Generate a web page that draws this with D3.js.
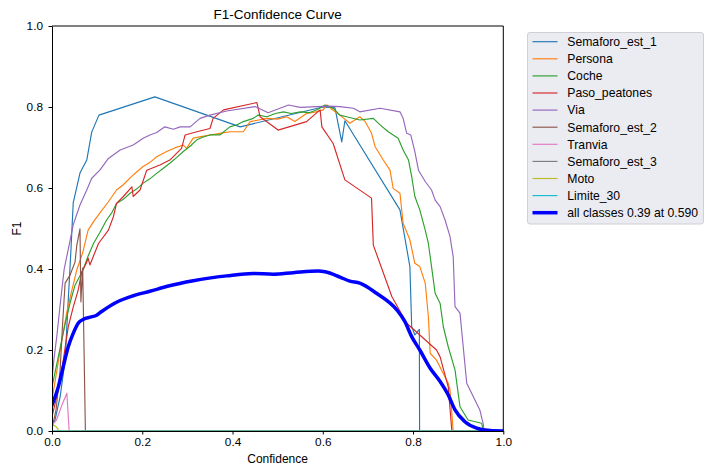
<!DOCTYPE html>
<html>
<head>
<meta charset="utf-8">
<script src="https://cdn.jsdelivr.net/npm/d3@7"></script>
<style>
  html, body { margin: 0; padding: 0; background: #ffffff; }
  svg { display: block; }
  text { font-family: "Liberation Sans", Arial, sans-serif; fill: #000; }
</style>
</head>
<body>
<svg id="chart" width="705" height="471"></svg>
<script>
// ---------------- DATA ----------------
const chartTitle = "F1-Confidence Curve";
const xLabel = "Confidence";
const yLabel = "F1";
const xTicks = [0, 0.2, 0.4, 0.6, 0.8, 1.0];
const yTicks = [0, 0.2, 0.4, 0.6, 0.8, 1.0];

const classNames = ["Semaforo_est_1", "Persona", "Coche", "Paso_peatones", "Via",
  "Semaforo_est_2", "Tranvia", "Semaforo_est_3", "Moto", "Limite_30"];
const classColors = ["#1f77b4", "#ff7f0e", "#2ca02c", "#d62728", "#9467bd",
  "#8c564b", "#e377c2", "#7f7f7f", "#bcbd22", "#17becf"];

// [confidence, F1]
const semaforoEst1 = [[0,0.012],[0.0066,0.027],[0.018,0.084],[0.029,0.175],[0.036,0.323],[0.042,0.447],
  [0.047,0.563],[0.062,0.637],[0.077,0.669],[0.088,0.738],[0.104,0.780],[0.228,0.825],[0.417,0.751],
  [0.600,0.800],[0.627,0.798],[0.642,0.714],[0.649,0.766],[0.771,0.546],[0.793,0.406],[0.797,0.258],
  [0.804,0.237],[0.814,0.251],[0.8145,0],[1.0,0]];

const persona = [[0,0.077],[0.011,0.151],[0.022,0.225],[0.033,0.294],[0.044,0.348],[0.055,0.398],
  [0.068,0.440],[0.080,0.496],[0.094,0.520],[0.106,0.538],[0.125,0.566],[0.143,0.595],[0.158,0.608],
  [0.173,0.625],[0.188,0.640],[0.202,0.653],[0.218,0.664],[0.232,0.677],[0.254,0.690],[0.272,0.699],
  [0.291,0.706],[0.298,0.698],[0.313,0.723],[0.330,0.727],[0.350,0.731],[0.372,0.735],[0.394,0.739],
  [0.424,0.739],[0.439,0.764],[0.458,0.768],[0.476,0.772],[0.500,0.770],[0.520,0.776],[0.538,0.764],
  [0.564,0.784],[0.585,0.788],[0.601,0.793],[0.609,0.805],[0.625,0.790],[0.638,0.780],[0.660,0.760],
  [0.682,0.776],[0.694,0.764],[0.708,0.735],[0.716,0.702],[0.734,0.669],[0.749,0.644],[0.756,0.599],
  [0.771,0.587],[0.778,0.513],[0.793,0.472],[0.804,0.414],[0.815,0.406],[0.827,0.365],[0.834,0.282],
  [0.838,0.192],[0.852,0.175],[0.878,0.118],[0.882,0.101],[0.889,0],[1.0,0]];

const coche = [[0,0.109],[0.007,0.146],[0.018,0.205],[0.029,0.264],[0.040,0.316],[0.051,0.360],
  [0.069,0.398],[0.080,0.432],[0.092,0.463],[0.106,0.490],[0.121,0.521],[0.133,0.540],[0.143,0.562],
  [0.158,0.572],[0.173,0.587],[0.188,0.598],[0.202,0.612],[0.216,0.622],[0.232,0.636],[0.246,0.648],
  [0.261,0.661],[0.276,0.675],[0.291,0.690],[0.306,0.703],[0.321,0.719],[0.335,0.726],[0.350,0.731],
  [0.372,0.731],[0.394,0.751],[0.410,0.756],[0.424,0.764],[0.446,0.772],[0.457,0.780],[0.476,0.776],
  [0.495,0.784],[0.513,0.788],[0.530,0.784],[0.550,0.788],[0.570,0.786],[0.587,0.793],[0.605,0.805],
  [0.623,0.797],[0.638,0.780],[0.653,0.776],[0.682,0.768],[0.712,0.772],[0.727,0.756],[0.745,0.739],
  [0.767,0.723],[0.778,0.694],[0.790,0.669],[0.797,0.628],[0.804,0.579],[0.815,0.546],[0.827,0.496],
  [0.834,0.463],[0.841,0.406],[0.849,0.340],[0.860,0.315],[0.867,0.258],[0.878,0.208],[0.893,0.151],
  [0.904,0.060],[0.922,0.027],[0.952,0.019],[0.956,0],[1.0,0]];

const pasoPeatones = [[0,0.035],[0.014,0.101],[0.025,0.175],[0.036,0.257],[0.047,0.306],[0.058,0.348],
  [0.066,0.393],[0.077,0.417],[0.080,0.427],[0.084,0.410],[0.103,0.463],[0.125,0.496],[0.136,0.529],
  [0.143,0.562],[0.158,0.579],[0.177,0.603],[0.180,0.579],[0.195,0.595],[0.210,0.644],[0.239,0.657],
  [0.261,0.669],[0.287,0.698],[0.295,0.731],[0.321,0.739],[0.350,0.747],[0.357,0.772],[0.380,0.793],
  [0.454,0.811],[0.461,0.776],[0.501,0.743],[0.564,0.764],[0.594,0.793],[0.598,0.751],[0.623,0.710],
  [0.649,0.620],[0.708,0.575],[0.712,0.459],[0.753,0.332],[0.786,0.266],[0.852,0.200],[0.860,0.183],
  [0.878,0.109],[0.886,0],[1.0,0]];

const via = [[0,0.126],[0.004,0.175],[0.011,0.237],[0.018,0.311],[0.027,0.400],[0.038,0.459],
  [0.047,0.509],[0.062,0.558],[0.077,0.595],[0.088,0.624],[0.106,0.644],[0.125,0.673],[0.151,0.694],
  [0.180,0.706],[0.202,0.723],[0.217,0.731],[0.232,0.737],[0.250,0.751],[0.269,0.745],[0.284,0.751],
  [0.306,0.751],[0.328,0.772],[0.350,0.780],[0.387,0.790],[0.450,0.801],[0.479,0.786],[0.524,0.805],
  [0.550,0.799],[0.612,0.802],[0.638,0.801],[0.668,0.797],[0.682,0.788],[0.727,0.797],[0.771,0.788],
  [0.778,0.772],[0.786,0.735],[0.795,0.731],[0.804,0.690],[0.812,0.644],[0.827,0.616],[0.841,0.595],
  [0.849,0.570],[0.860,0.554],[0.871,0.521],[0.882,0.480],[0.889,0.430],[0.893,0.307],[0.904,0.291],
  [0.919,0.118],[0.948,0.052],[0.956,0.015],[0.957,0],[1.0,0]];

const semaforoEst2 = [[0,0.007],[0.009,0.052],[0.018,0.151],[0.024,0.274],[0.029,0.365],[0.040,0.385],
  [0.051,0.417],[0.055,0.459],[0.062,0.499],[0.064,0.319],[0.068,0.402],[0.074,0],[1.0,0]];

const tranvia = [[0,0.015],[0.010,0.027],[0.022,0.064],[0.033,0.093],[0.038,0],[1.0,0]];
const semaforoEst3 = [[0,0],[1.0,0]];
const moto = [[0,0.015],[0.008,0.012],[0.013,0.005],[0.014,0],[1.0,0]];
const limite30 = [[0,0],[1.0,0]];

const allClassesLabel = "all classes 0.39 at 0.590";
const allClasses = [[0,0.064],[0.014,0.109],[0.025,0.159],[0.036,0.208],[0.047,0.241],[0.058,0.266],
  [0.070,0.276],[0.085,0.281],[0.099,0.286],[0.110,0.295],[0.143,0.318],[0.180,0.334],[0.217,0.345],
  [0.258,0.358],[0.313,0.371],[0.387,0.383],[0.446,0.389],[0.490,0.387],[0.535,0.391],[0.590,0.395],
  [0.605,0.393],[0.638,0.380],[0.660,0.370],[0.682,0.365],[0.719,0.340],[0.764,0.299],[0.782,0.270],
  [0.797,0.233],[0.815,0.200],[0.838,0.155],[0.860,0.122],[0.878,0.089],[0.893,0.052],[0.915,0.023],
  [0.941,0.007],[0.971,0.001],[1.0,0]];

const classSeries = [semaforoEst1, persona, coche, pasoPeatones, via, semaforoEst2, tranvia,
  semaforoEst3, moto, limite30];

// ---------------- DRAW ----------------
const svg = d3.select("#chart");
const x = d3.scaleLinear().domain([0, 1]).range([52, 503.3]);
const y = d3.scaleLinear().domain([0, 1]).range([431, 26]);

const plot = svg.append("g");
svg.append("defs").append("clipPath").attr("id", "clip")
  .append("rect").attr("x", 52).attr("y", 26).attr("width", 451.3).attr("height", 405);

const line = d3.line().x(d => x(d[0])).y(d => y(d[1]));
const smooth = d3.line().x(d => x(d[0])).y(d => y(d[1])).curve(d3.curveMonotoneX);

const linesG = plot.append("g").attr("clip-path", "url(#clip)");
classSeries.forEach((s, i) => {
  linesG.append("path").datum(s)
    .attr("d", line)
    .attr("fill", "none")
    .attr("stroke", classColors[i])
    .attr("stroke-width", 1.15)
    .attr("stroke-linejoin", "round");
});
linesG.append("path").datum(allClasses)
  .attr("d", smooth)
  .attr("fill", "none")
  .attr("stroke", "#0000ff")
  .attr("stroke-width", 3.5)
  .attr("stroke-linejoin", "round")
  .attr("stroke-linecap", "square");

// axes
const fmt = d3.format(".1f");
const xAxis = plot.append("g").attr("transform", "translate(0,431)")
  .call(d3.axisBottom(x).tickValues(xTicks).tickFormat(fmt).tickSizeInner(3.5).tickSizeOuter(0).tickPadding(3.5));
const yAxis = plot.append("g").attr("transform", "translate(52,0)")
  .call(d3.axisLeft(y).tickValues(yTicks).tickFormat(fmt).tickSizeInner(3.5).tickSizeOuter(0).tickPadding(5.5));
[xAxis, yAxis].forEach(a => {
  a.selectAll("text").attr("font-size", 11.8).attr("font-family", "'Liberation Sans', Arial, sans-serif").attr("fill", "#000");
  a.selectAll("line").attr("stroke", "#000").attr("stroke-width", 1);
  a.select(".domain").attr("stroke", "#000").attr("stroke-width", 1);
});
// top and right spines
plot.append("line").attr("x1", 52).attr("x2", 503.3).attr("y1", 26).attr("y2", 26).attr("stroke", "#000").attr("stroke-width", 1);
plot.append("line").attr("x1", 503.3).attr("x2", 503.3).attr("y1", 26).attr("y2", 431).attr("stroke", "#000").attr("stroke-width", 1);

// labels
svg.append("text").attr("x", 277.6).attr("y", 18.7).attr("text-anchor", "middle")
  .attr("font-size", 13.5).text(chartTitle);
svg.append("text").attr("x", 277.6).attr("y", 463).attr("text-anchor", "middle")
  .attr("font-size", 12).text(xLabel);
svg.append("text").attr("transform", "translate(20.8,228.5) rotate(-90)").attr("text-anchor", "middle")
  .attr("font-size", 12).text(yLabel);

// legend
const legend = svg.append("g");
legend.append("rect").attr("x", 527.5).attr("y", 32.5).attr("width", 176).attr("height", 191.5)
  .attr("rx", 2.5).attr("fill", "#ebebf2").attr("stroke", "#cfcfd4").attr("stroke-width", 1);
const legendNames = classNames.concat([allClassesLabel]);
const legendColors = classColors.concat(["#0000ff"]);
legendNames.forEach((name, i) => {
  const cy = 41.7 + i * 17.1;
  legend.append("line").attr("x1", 532.5).attr("x2", 557.5).attr("y1", cy).attr("y2", cy)
    .attr("stroke", legendColors[i]).attr("stroke-width", i === 10 ? 3.5 : 1.15);
  legend.append("text").attr("x", 567.3).attr("y", cy).attr("dy", "0.36em")
    .attr("font-size", 12.2).text(name);
});
</script>
</body>
</html>
